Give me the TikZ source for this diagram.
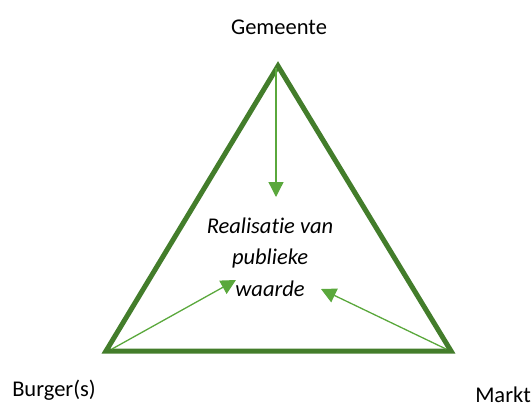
\documentclass[tikz,border=0pt]{standalone}
\usepackage{fontspec}
\setmainfont{Carlito}[Ligatures=NoCommon]
\usetikzlibrary{arrows.meta,positioning}
\definecolor{darkgreen}{HTML}{437D2B}
\definecolor{lightgreen}{HTML}{5AA83C}

\begin{document}
\begin{tikzpicture}[x=1pt,y=-1pt,>={Triangle[length=15pt,width=15pt]},semithick]
\tikzstyle{every node}=[font=\fontsize{22.5}{31.5}\selectfont,text=black]
\useasboundingbox (0,0) rectangle (532,407);
% corners of the triangle
\coordinate (G) at (278,66);
\coordinate (B) at (106,351);
\coordinate (M) at (451,351);
\draw[darkgreen,line width=5pt,line join=miter] (G)--(B)--(M)--cycle;
\node (gemeente) at (279,27) {Gemeente};
\node (burger) at (54,390) {Burger(s)};
\node (markt) at (503,395) {Markt};
\node[align=center,font=\fontsize{22.5}{31.5}\selectfont\itshape] (waarde) at (270,257)
  {Realisatie van\\publieke\\waarde};
% arrows towards the centre
\coordinate (s1) at (276,68);
\coordinate (s2) at (112,349);
\coordinate (s3) at (446,349);
\coordinate (t1) at (276,197);
\coordinate (t2) at (236,280);
\coordinate (t3) at (321,289);
\path[lightgreen,->,line width=1.3pt] (s1)edge(t1)
      (s2)edge(t2)
      (s3)edge(t3);
\end{tikzpicture}
\end{document}
